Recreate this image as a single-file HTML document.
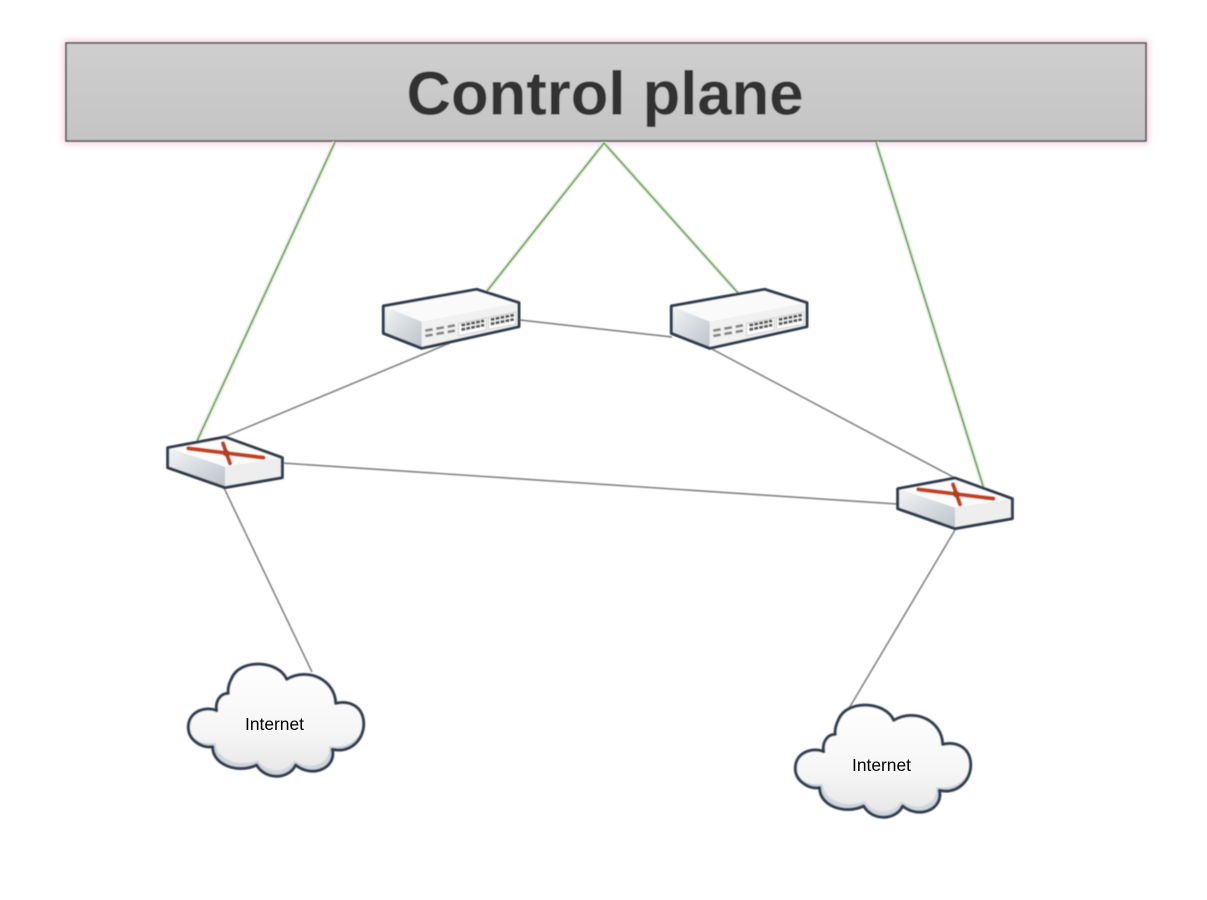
<!DOCTYPE html>
<html>
<head>
<meta charset="utf-8">
<style>
html,body{margin:0;padding:0;background:#fff;width:1207px;height:900px;overflow:hidden}
svg{display:block}
text{font-family:"Liberation Sans",sans-serif}
</style>
</head>
<body>
<svg width="1207" height="900" viewBox="0 0 1207 900" xmlns="http://www.w3.org/2000/svg">
<defs>
<linearGradient id="bar" x1="0" y1="0" x2="0" y2="1"><stop offset="0" stop-color="#cfcfcf"/><stop offset="1" stop-color="#c4c4c4"/></linearGradient>
<linearGradient id="left" x1="0" y1="0" x2="1" y2="1"><stop offset="0" stop-color="#f4f5f6"/><stop offset="1" stop-color="#bcc3c9"/></linearGradient>
<linearGradient id="cl" x1="0" y1="0" x2="0" y2="1"><stop offset="0" stop-color="#ffffff"/><stop offset=".6" stop-color="#f6f6f6"/><stop offset="1" stop-color="#e6e6e6"/></linearGradient>
<filter id="glow" x="-5%" y="-30%" width="110%" height="160%"><feGaussianBlur stdDeviation="3.500"/></filter>
<filter id="soft" x="-5%" y="-5%" width="110%" height="110%"><feGaussianBlur stdDeviation="0.450"/></filter>

<g id="switch" transform="translate(370,280) scale(.3333)">
  <polygon points="40,78 320,28 447,68 447,140 155,205 40,160" fill="#f1f1f1"/>
  <polygon points="40,78 155,125 155,205 40,160" fill="url(#left)"/>
  <polygon points="40,78 320,28 447,68 155,125" fill="#fafafa"/>
  <g stroke="#858585" stroke-width="8" fill="none">
    <path d="M166 152l22-4M199 146l23-4M233 140l22-4M166 168l22-4M199 162l23-4M233 156l22-4"/>
  </g>
  <polygon points="266,130 349,113 349,150 266,167" fill="#ffffff" stroke="#cfcfcf" stroke-width="3"/>
  <polygon points="356,112 438,96 438,132 356,148" fill="#ffffff" stroke="#cfcfcf" stroke-width="3"/>
  <g stroke="#5c5c5c" stroke-width="9" stroke-dasharray="12 3" fill="none">
    <path d="M274 136L343 122M274 149L343 135"/>
    <path d="M362 119L432 105M362 132L432 118"/>
  </g>
  <polygon points="40,78 320,28 447,68 447,140 155,205 40,160" fill="none" stroke="#323d50" stroke-width="9" stroke-linejoin="round"/>
</g>

<g id="router" transform="translate(155,425) scale(.3333)">
  <polygon points="38,68 210,36 382,98 382,158 210,188 38,128" fill="#eeeeee"/>
  <polygon points="38,68 210,125 210,188 38,128" fill="url(#left)"/>
  <polygon points="38,68 210,36 382,98 210,125" fill="#fbfbfb"/>
  <g stroke="#c2401d" stroke-width="12" stroke-linecap="round" fill="none">
    <path d="M100 70L325 98"/>
    <path d="M204 55L225 115"/>
  </g>
  <circle cx="213" cy="84" r="10" fill="#b83a1a"/>
  <polygon points="38,68 210,36 382,98 382,158 210,188 38,128" fill="none" stroke="#323d50" stroke-width="9" stroke-linejoin="round"/>
</g>

<g id="cloud" transform="translate(175,650) scale(.3333)">
  <path d="M125 182C95 168 40 182 40 232C40 270 80 295 113 290C112 345 190 372 245 345C270 390 340 390 362 345C410 385 485 355 472 298C530 310 568 265 566 218C563 170 525 150 482 160C480 90 400 50 335 88C310 30 195 25 170 85C160 105 158 118 160 130C135 130 120 155 125 182Z" fill="url(#cl)"/>
  <path d="M46 248C62 278 92 282 122 278C122 325 190 355 248 331C275 371 335 371 358 331C405 365 470 342 462 288C520 298 556 262 562 238C558 280 525 305 472 298C485 355 410 385 362 345C340 390 270 390 245 345C190 372 112 345 113 290C80 295 52 275 46 248Z" fill="#cfd6de"/>
  <path d="M440 80C468 100 482 130 482 160C476 130 462 100 440 80Z" fill="#cfd6de"/>
  <path d="M125 182C95 168 40 182 40 232C40 270 80 295 113 290C112 345 190 372 245 345C270 390 340 390 362 345C410 385 485 355 472 298C530 310 568 265 566 218C563 170 525 150 482 160C480 90 400 50 335 88C310 30 195 25 170 85C160 105 158 118 160 130C135 130 120 155 125 182Z" fill="none" stroke="#323d50" stroke-width="9" stroke-linejoin="round"/>
</g>
</defs>

<g filter="url(#soft)">
  <rect x="63" y="40" width="1086" height="104" fill="#e090b5" opacity=".4" filter="url(#glow)"/>
  <rect x="66" y="43" width="1080" height="98" fill="url(#bar)" stroke="#555" stroke-width="1.600"/>
  <text x="605" y="114.500" text-anchor="middle" font-size="61.600" font-weight="bold" fill="#333">Control plane</text>

  <g stroke="#e2eedc" stroke-width="4.500" fill="none">
    <path d="M335 142L197 441M604 143L487 291M604 143L739 294M876 142L984 489"/>
  </g>
  <g stroke="#5c9a48" stroke-width="1.500" fill="none">
    <path d="M335 142L197 441M604 143L487 291M604 143L739 294M876 142L984 489"/>
  </g>
  <g stroke="#8a8a8a" stroke-width="1.700" fill="none">
    <path d="M224 437L450 343M282 463L897 504M520 320L672 337M710 348L955 478M224 488L312 672M955 530L848 710"/>
  </g>

  <use href="#switch"/>
  <use href="#switch" x="288"/>
  <use href="#router"/>
  <use href="#router" x="730" y="41"/>
  <use href="#cloud"/>
  <use href="#cloud" x="607" y="41"/>
</g>
<text x="274.500" y="730" text-anchor="middle" font-size="17.400" fill="#000">Internet</text>
<text x="881.500" y="771" text-anchor="middle" font-size="17.400" fill="#000">Internet</text>
</svg>
</body>
</html>
